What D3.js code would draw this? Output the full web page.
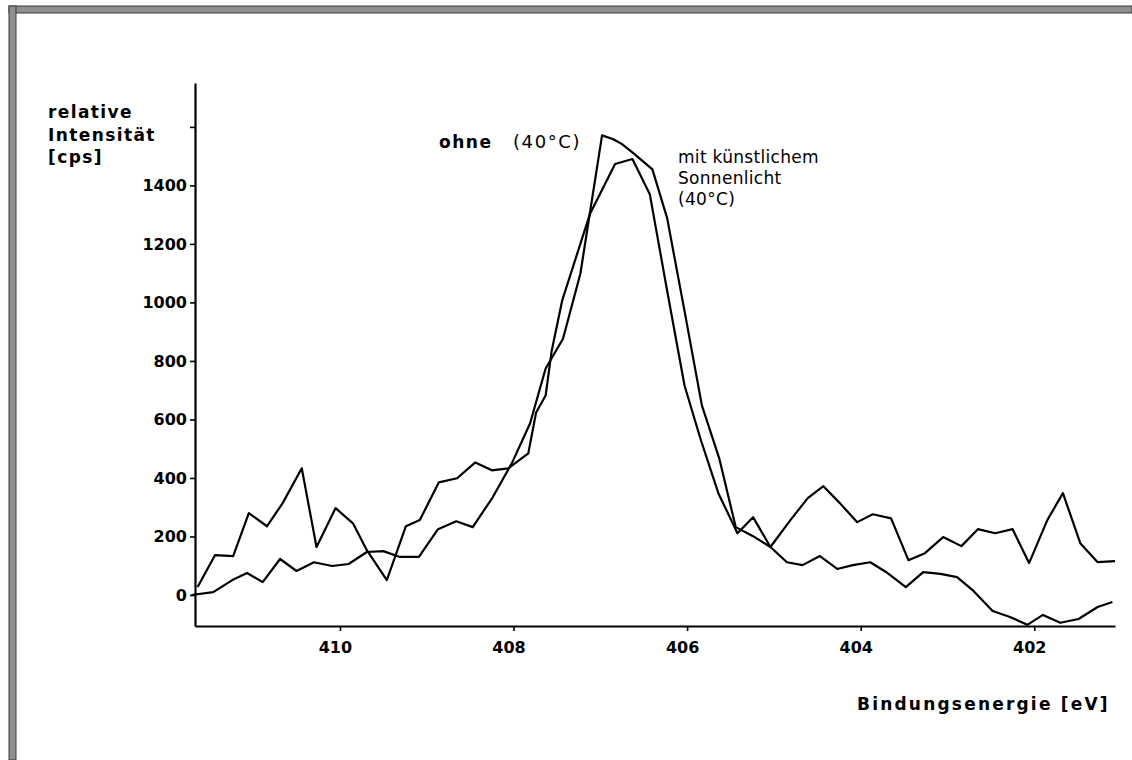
<!DOCTYPE html>
<html>
<head>
<meta charset="utf-8">
<script src="https://cdn.jsdelivr.net/npm/d3@7"></script>
<style>
html,body{margin:0;padding:0;background:#fff}
svg{display:block}
</style>
</head>
<body>
<svg id="c" width="1132" height="760"></svg>
<script>
// ---- data ----
// Series "ohne (40°C)"
const energyOhne = [411.71,411.46,411.24,411.07,410.89,410.69,410.50,410.30,410.09,409.90,409.69,409.50,409.31,409.09,408.87,408.66,408.47,408.24,408.02,407.81,407.63,407.43,407.23,406.98,406.85,406.75,406.62,406.40,406.23,406.02,405.83,405.63,405.44,405.24,405.04,404.81,404.61,404.43,404.24,404.04,403.86,403.65,403.45,403.26,403.05,402.84,402.65,402.45,402.25,402.06,401.85,401.67,401.47,401.27,401.07];
const intensityOhne = [0,10,51,75,44,123,82,112,99,106,147,150,130,130,225,252,232,334,450,586,774,876,1098,1571,1558,1541,1510,1455,1288,955,648,467,232,201,164,256,331,372,314,249,276,262,119,143,198,167,225,211,225,109,256,348,177,112,116];
// Series "mit künstlichem Sonnenlicht (40°C)"
const energyMit = [411.64,411.44,411.23,411.05,410.84,410.66,410.44,410.27,410.05,409.85,409.69,409.46,409.24,409.08,408.86,408.65,408.44,408.25,408.06,407.83,407.74,407.63,407.56,407.44,407.12,406.83,406.63,406.43,406.23,406.03,405.84,405.64,405.42,405.24,405.04,404.85,404.67,404.47,404.27,404.09,403.89,403.69,403.48,403.28,403.08,402.89,402.70,402.48,402.28,402.08,401.90,401.70,401.49,401.27,401.10];
const intensityMit = [27,136,133,280,235,314,433,164,297,245,153,51,235,256,385,399,453,426,433,484,624,682,835,1006,1302,1473,1490,1370,1040,716,528,348,211,266,164,112,102,133,89,102,112,75,27,78,72,61,14,-55,-75,-102,-68,-95,-82,-41,-24];

const yTicks = [0,200,400,600,800,1000,1200,1400,1600];
const yTickLabels = ["0","200","400","600","800","1000","1200","1400",""];
const xTicks = [410,408,406,404,402];
const yTitle = ["relative","Intensität","[cps]"];
const xTitle = "Bindungsenergie [eV]";
const labelOhne = ["ohne","(40°C)"];
const labelMit = ["mit künstlichem","Sonnenlicht","(40°C)"];

// ---- drawing ----
const FONT = "'DejaVu Sans', 'Liberation Sans', Arial, sans-serif";
const svg = d3.select("#c");
svg.append("rect").attr("width",1132).attr("height",760).attr("fill","#fff");

// scanned frame
svg.append("rect").attr("x",9).attr("y",6).attr("width",1123).attr("height",7)
  .attr("fill","#8f8f8f").attr("stroke","#3a3a3a").attr("stroke-width",1);
svg.append("rect").attr("x",9).attr("y",6).attr("width",7).attr("height",754)
  .attr("fill","#8f8f8f").attr("stroke","#3a3a3a").attr("stroke-width",1);

const x = d3.scaleLinear().domain([411.67, 401.07]).range([195, 1115]);
const y = d3.scaleLinear().domain([-106, 1750]).range([626, 83]);

// y axis
const gy = svg.append("g").attr("transform","translate(195,0)")
  .call(d3.axisLeft(y).tickValues(yTicks).tickFormat((d,i)=>yTickLabels[i])
        .tickSize(5).tickSizeOuter(0).tickPadding(3));
gy.select(".domain").attr("stroke","#000").attr("stroke-width",2.2);
gy.selectAll(".tick line").attr("stroke","#000").attr("stroke-width",1.6);
gy.selectAll(".tick text").attr("font-family",FONT).attr("font-weight","bold")
  .attr("font-size",16).attr("fill","#000");

// x axis
const gx = svg.append("g").attr("transform","translate(0,626)")
  .call(d3.axisBottom(x).tickValues(xTicks).tickFormat(d3.format("d"))
        .tickSize(5).tickSizeOuter(0));
gx.select(".domain").attr("stroke","#000").attr("stroke-width",2.2);
gx.selectAll(".tick line").attr("stroke","#000").attr("stroke-width",1.6);
gx.selectAll(".tick text").attr("font-family",FONT).attr("font-weight","bold")
  .attr("font-size",16).attr("fill","#000").attr("y",27).attr("dy",0).attr("dx",-5);

// lines
const line = d3.line().x(d=>x(d[0])).y(d=>y(d[1]));
const dataOhne = energyOhne.map((e,i)=>[e,intensityOhne[i]]);
const dataMit = energyMit.map((e,i)=>[e,intensityMit[i]]);
[dataOhne, dataMit].forEach(d=>{
  svg.append("path").datum(d).attr("d",line).attr("fill","none")
    .attr("stroke","#000").attr("stroke-width",2.2).attr("stroke-linejoin","round");
});

// y title
svg.append("g").selectAll("text").data(yTitle).join("text")
  .attr("x",48).attr("y",(d,i)=>[118,141,163][i])
  .attr("font-family",FONT).attr("font-weight","bold").attr("font-size",17)
  .style("letter-spacing","1.4px").attr("fill","#000").text(d=>d);

// x title
svg.append("text").attr("x",857).attr("y",710)
  .attr("font-family",FONT).attr("font-weight","bold").attr("font-size",17)
  .style("letter-spacing","2.2px").attr("fill","#000").text(xTitle);

// annotations
svg.append("text").attr("x",439).attr("y",148)
  .attr("font-family",FONT).attr("font-weight","bold").attr("font-size",17)
  .style("letter-spacing","1.5px").attr("fill","#000").text(labelOhne[0]);
svg.append("text").attr("x",513).attr("y",148)
  .attr("font-family",FONT).attr("font-size",18)
  .style("letter-spacing","1.6px").attr("fill","#000").text(labelOhne[1]);

svg.append("g").selectAll("text").data(labelMit).join("text")
  .attr("x",678).attr("y",(d,i)=>[163,184,205][i])
  .attr("font-family",FONT).attr("font-size",17).attr("fill","#000")
  .style("letter-spacing","0.3px").text(d=>d);
</script>
</body>
</html>
